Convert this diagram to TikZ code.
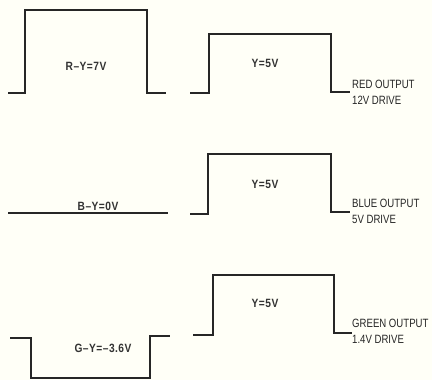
\documentclass[tikz,border=0pt]{standalone}
\usepackage{fontspec}
\setmainfont{Liberation Sans}
\newfontfamily\narrowfont[FakeStretch=0.8]{Liberation Sans}
\newfontfamily\labelfont[FakeStretch=0.85,LetterSpace=4]{Liberation Sans}
\begin{document}
\begin{tikzpicture}[x=1pt,y=-1pt,
  wave/.style={line width=1.7pt,draw=black!85,line join=miter},
  lbl/.style={font=\labelfont\fontsize{12}{14}\selectfont\bfseries,text=black!80,inner sep=0pt},
  outlbl/.style={font=\narrowfont\fontsize{12}{16}\selectfont,text=black!85,inner sep=0pt,anchor=west,align=left}]
\fill[yellow!3] (0,0) rectangle (432,380);
\useasboundingbox (0,0) rectangle (432,380);
% Row 1
\draw[wave] (8,93) -- (25,93) -- (25,10) -- (147,10) -- (147,93) -- (166,93);
\node[lbl] (ry) at (86,66) {R–Y=7V};
\draw[wave] (190,93) -- (209,93) -- (209,34) -- (331,34) -- (331,92) -- (350,92);
\node[lbl] (y1) at (265,63) {Y=5V};
\node[outlbl] (red) at (352,92) {RED OUTPUT\\12V DRIVE};
% Row 2
\draw[wave] (8,213) -- (168,213);
\node[lbl] (by) at (98,206) {B–Y=0V};
\draw[wave] (190,214) -- (208,214) -- (208,154) -- (331,154) -- (331,212) -- (350,212);
\node[lbl] (y2) at (265,184) {Y=5V};
\node[outlbl] (blue) at (352,211) {BLUE OUTPUT\\5V DRIVE};
% Row 3
\draw[wave] (10,338) -- (31,338) -- (31,378) -- (150,378) -- (150,336) -- (170,336);
\node[lbl] (gy) at (103,348) {G–Y=–3.6V};
\draw[wave] (193,335) -- (213,335) -- (213,275) -- (334,275) -- (334,333) -- (352,333);
\node[lbl] (y3) at (265,303) {Y=5V};
\node[outlbl] (green) at (352,331) {GREEN OUTPUT\\1.4V DRIVE};
\end{tikzpicture}
\end{document}
